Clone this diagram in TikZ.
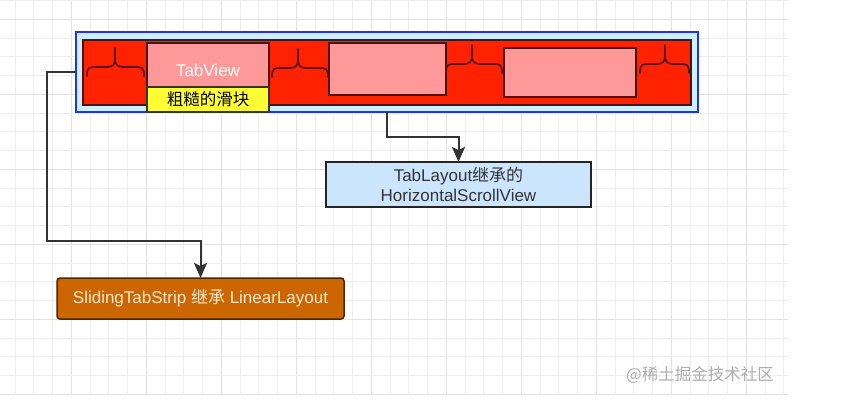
\documentclass[tikz,border=0pt]{standalone}
\usepackage{fontspec}
\setmainfont{Liberation Sans}
\newfontfamily\cjk{Noto Sans CJK SC}
\usetikzlibrary{arrows.meta}
\definecolor{gridfine}{HTML}{EEEEEE}
\definecolor{gridheavy}{HTML}{E2E2E2}
\definecolor{outerblue}{HTML}{2233EE}
\definecolor{outerfill}{HTML}{CCF0FF}
\definecolor{barred}{HTML}{FF2200}
\definecolor{darkred}{HTML}{4A1414}
\definecolor{tabpink}{HTML}{FF9999}
\definecolor{slideryellow}{HTML}{FFFF33}
\definecolor{hsvblue}{HTML}{CCE5FF}
\definecolor{orangebox}{HTML}{CC6600}
\definecolor{orangeedge}{HTML}{4D2600}
\definecolor{linegray}{HTML}{333333}
\definecolor{orangetext}{HTML}{FFE8D0}
\newcommand\tabbrace[4]{%
  \draw[bracestyle] (#1,#4) .. controls (#1,#4-9) and (#1+2,#4-9) .. (#1+10,#4-9)
    -- (#3-8,#4-9) .. controls (#3-2,#4-9) and (#3,#4-12) .. (#3,#4-17) -- (#3,#4-28);
  \draw[bracestyle] (#2,#4) .. controls (#2,#4-9) and (#2-2,#4-9) .. (#2-10,#4-9)
    -- (#3+8,#4-9) .. controls (#3+2,#4-9) and (#3,#4-12) .. (#3,#4-17);
}
\tikzset{
  boxbase/.style={rectangle, inner sep=0pt, outer sep=0pt},
  tabbox/.style={boxbase, fill=tabpink, draw=darkred, line width=1.5pt},
  bracestyle/.style={draw=darkred!90!red, line width=1.7pt, line cap=round, line join=round},
  conn/.style={draw=linegray, line width=2pt, -{Stealth[length=15pt,width=13pt,inset=3pt]}},
  txt/.style={font=\fontsize{17}{20}\selectfont},
}
\begin{document}
\begin{tikzpicture}[x=1pt,y=-1pt]
\useasboundingbox (0,0) rectangle (847,410);
\fill[white] (0,0) rectangle (847,410);
% grid
\foreach \i in {0,...,41}{
  \pgfmathtruncatemacro\m{mod(\i,4)}
  \ifnum\m=3 \draw[gridheavy, line width=1pt] ({15+18.75*\i},0) -- ({15+18.75*\i},395);
  \else \draw[gridfine, line width=0.8pt] ({15+18.75*\i},0) -- ({15+18.75*\i},395); \fi
}
\foreach \j in {0,...,21}{
  \pgfmathtruncatemacro\m{mod(\j,4)}
  \ifnum\m=1 \draw[gridheavy, line width=1pt] (0,{0.5+18.75*\j}) -- (788,{0.5+18.75*\j});
  \else \draw[gridfine, line width=0.8pt] (0,{0.5+18.75*\j}) -- (788,{0.5+18.75*\j}); \fi
}
% main container
\node[boxbase, minimum width=622pt, minimum height=80pt, fill=outerfill, draw=outerblue, line width=2pt] (outer) at (387,72) {};
\node[boxbase, minimum width=608pt, minimum height=65pt, fill=barred, draw=darkred, line width=1.5pt] (bar) at (387,72.5) {};
\node[tabbox, minimum width=122pt, minimum height=44pt] (tab1) at (208,65) {};
\node[txt, text=white] (tab1label) at (208,70) {TabView};
\node[boxbase, minimum width=122pt, minimum height=25pt, fill=slideryellow, draw=linegray, line width=1.5pt, font=\fontsize{16.5}{20}\selectfont] (slider) at (208,99.5) {\cjk 粗糙的滑块};
\node[tabbox, minimum width=117pt, minimum height=52pt] (tab2) at (387.5,69) {};
\node[tabbox, minimum width=132pt, minimum height=49pt] (tab3) at (570,72.5) {};
% braces
\tabbrace{87}{144}{115}{76}
\tabbrace{272}{328}{298}{77}
\tabbrace{446}{502}{472}{73}
\tabbrace{640}{689}{665}{73}
% target boxes
\node[boxbase, minimum width=265pt, minimum height=45pt, fill=hsvblue, draw=linegray!70!black, line width=1.5pt, txt, text=linegray, align=center] (hsv) at (458.5,184.5) {TabLayout{\cjk 继承的}\\HorizontalScrollView};
\node[boxbase, minimum width=287pt, minimum height=41pt, rounded corners=3pt, fill=orangebox, draw=orangeedge, line width=1.5pt, txt, text=orangetext] (strip) at (200.5,298.5) {SlidingTabStrip {\cjk 继承} LinearLayout};
% connectors
\coordinate (c1) at (47,241);
\coordinate (c2) at (458.5,137);
\draw[conn] (outer.west) -| (c1) -| (strip.north);
\draw[conn] (outer.south) |- (c2) -- (hsv.north);
% watermark
\node[font=\cjk\fontsize{16.5}{18}\selectfont, text=black!32] (wm) at (700,375) {@稀土掘金技术社区};
\end{tikzpicture}
\end{document}
